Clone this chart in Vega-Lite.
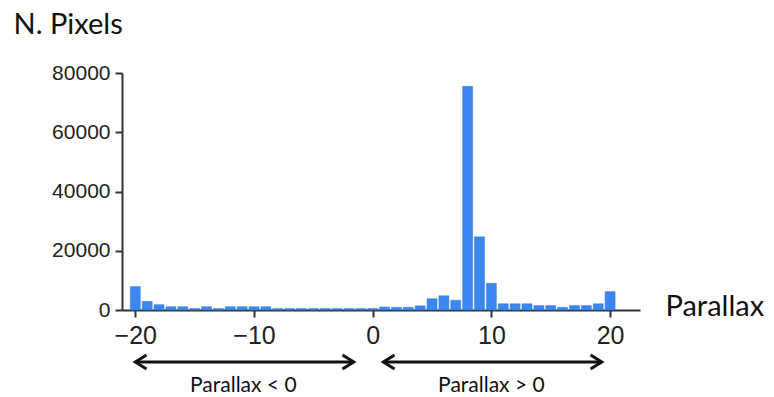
{
  "$schema": "https://vega.github.io/schema/vega-lite/v6.json",
  "width": 518,
  "height": 237,
  "autosize": {"type": "none"},
  "padding": {"left": 122, "top": 73, "right": 134, "bottom": 87},
  "background": "white",
  "config": {
    "view": {"stroke": null},
    "axis": {
      "grid": false,
      "domainColor": "#333",
      "domainWidth": 2,
      "tickColor": "#333",
      "tickWidth": 2,
      "tickSize": 6,
      "labelFont": "Liberation Sans",
      "labelColor": "#222",
      "titleFont": "Lato",
      "titleFontWeight": "normal",
      "titleColor": "#111"
    }
  },
  "datasets": {
    "hist": [
      {"parallax": -20, "pixels": 7900}, {"parallax": -19, "pixels": 2900}, {"parallax": -18, "pixels": 1800},
      {"parallax": -17, "pixels": 1100}, {"parallax": -16, "pixels": 1100}, {"parallax": -15, "pixels": 500},
      {"parallax": -14, "pixels": 1100}, {"parallax": -13, "pixels": 500}, {"parallax": -12, "pixels": 1100},
      {"parallax": -11, "pixels": 1100}, {"parallax": -10, "pixels": 1100}, {"parallax": -9, "pixels": 1100},
      {"parallax": -8, "pixels": 500}, {"parallax": -7, "pixels": 500}, {"parallax": -6, "pixels": 500},
      {"parallax": -5, "pixels": 500}, {"parallax": -4, "pixels": 500}, {"parallax": -3, "pixels": 500},
      {"parallax": -2, "pixels": 500}, {"parallax": -1, "pixels": 500}, {"parallax": 0, "pixels": 500},
      {"parallax": 1, "pixels": 1000}, {"parallax": 2, "pixels": 900}, {"parallax": 3, "pixels": 900},
      {"parallax": 4, "pixels": 1400}, {"parallax": 5, "pixels": 3800}, {"parallax": 6, "pixels": 4800},
      {"parallax": 7, "pixels": 3300}, {"parallax": 8, "pixels": 75500}, {"parallax": 9, "pixels": 24700},
      {"parallax": 10, "pixels": 9000}, {"parallax": 11, "pixels": 2100}, {"parallax": 12, "pixels": 2100},
      {"parallax": 13, "pixels": 2100}, {"parallax": 14, "pixels": 1500}, {"parallax": 15, "pixels": 1500},
      {"parallax": 16, "pixels": 900}, {"parallax": 17, "pixels": 1500}, {"parallax": 18, "pixels": 1500},
      {"parallax": 19, "pixels": 2100}, {"parallax": 20, "pixels": 6200}
    ],
    "arrows": [
      {"from": -20.0, "to": -1.6, "label": "Parallax < 0", "mid": -10.9},
      {"from": 0.9, "to": 19.3, "label": "Parallax > 0", "mid": 10.0}
    ],
    "heads": [
      {"at": -20.0, "dir": "left"}, {"at": -1.6, "dir": "right"},
      {"at": 0.9, "dir": "left"}, {"at": 19.3, "dir": "right"}
    ]
  },
  "layer": [
    {
      "data": {"name": "hist"},
      "mark": {"type": "bar", "width": 10, "color": "#3b87ef", "stroke": "#2f7ae0", "strokeWidth": 0.5},
      "encoding": {
        "x": {
          "field": "parallax", "type": "quantitative",
          "scale": {"domain": [-20.7, 22.1], "nice": false, "zero": false},
          "axis": {
            "values": [-20, -10, 0, 10, 20],
            "labelFont": "Liberation Sans Narrow, Liberation Sans",
            "labelFontSize": 25, "labelPadding": 6, "tickSize": 7,
            "title": "Parallax", "titleFontSize": 29,
            "titleX": 543, "titleY": 5, "titleAlign": "left", "titleBaseline": "alphabetic", "titleAngle": 0
          }
        },
        "y": {
          "field": "pixels", "type": "quantitative",
          "scale": {"domain": [0, 80000], "nice": false},
          "axis": {
            "values": [0, 20000, 40000, 60000, 80000], "format": "d",
            "labelFont": "Liberation Sans Narrow, Liberation Sans",
            "labelFontSize": 21, "labelPadding": 5, "tickSize": 7,
            "title": "N. Pixels", "titleFontSize": 29, "titleAngle": 0,
            "titleX": -109, "titleY": -40, "titleAlign": "left", "titleBaseline": "alphabetic"
          }
        }
      }
    },
    {
      "data": {"name": "arrows"},
      "mark": {"type": "rule", "color": "#111", "strokeWidth": 3},
      "encoding": {
        "x": {"field": "from", "type": "quantitative"},
        "x2": {"field": "to"},
        "y": {"datum": -0.219, "type": "quantitative", "scale": {"domain": [0, 1], "nice": false}, "axis": null}
      }
    },
    {
      "data": {"name": "heads"},
      "mark": {"type": "point", "filled": false, "strokeWidth": 3, "color": "#111", "size": 196, "opacity": 1},
      "encoding": {
        "x": {"field": "at", "type": "quantitative"},
        "y": {"datum": -0.219, "type": "quantitative", "scale": {"domain": [0, 1], "nice": false}, "axis": null},
        "shape": {
          "field": "dir", "type": "nominal",
          "scale": {"domain": ["left", "right"], "range": ["M 1.6 -1 L 0 0 L 1.6 1", "M -1.6 -1 L 0 0 L -1.6 1"]},
          "legend": null
        }
      }
    },
    {
      "data": {"name": "arrows"},
      "mark": {"type": "text", "font": "Lato", "fontSize": 21, "color": "#111", "align": "center", "baseline": "alphabetic"},
      "encoding": {
        "x": {"field": "mid", "type": "quantitative"},
        "y": {"datum": -0.346, "type": "quantitative", "scale": {"domain": [0, 1], "nice": false}, "axis": null},
        "text": {"field": "label"}
      }
    }
  ],
  "resolve": {"scale": {"y": "independent"}}
}
